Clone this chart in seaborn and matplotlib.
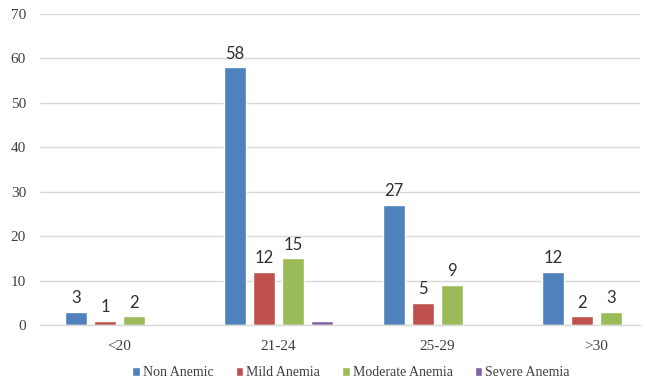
import matplotlib
matplotlib.use("Agg")
import matplotlib.pyplot as plt
import pandas as pd
import seaborn as sns

# Age groups and counts per anaemia status
age_groups = ["<20", "21-24", "25-29", ">30"]
non_anemic = [3, 58, 27, 12]
mild_anemia = [1, 12, 5, 2]
moderate_anemia = [2, 15, 9, 3]
severe_anemia = [0, 1, 0, 0]
series_names = ["Non Anemic", "Mild Anemia", "Moderate Anemia", "Severe Anemia"]
labelled_series = ["Non Anemic", "Mild Anemia", "Moderate Anemia"]
y_ticks = [0, 10, 20, 30, 40, 50, 60, 70]

palette = ["#4F81BD", "#C0504D", "#9BBB59", "#8064A2"]

rows = []
for name, vals in zip(series_names,
                      [non_anemic, mild_anemia, moderate_anemia, severe_anemia]):
    for grp, v in zip(age_groups, vals):
        rows.append({"Age": grp, "Status": name, "Count": v})
df = pd.DataFrame(rows)

sns.set_theme(style="white")
plt.rcParams["font.family"] = ["Liberation Serif", "DejaVu Serif"]

fig = plt.figure(figsize=(6.46, 3.81), dpi=100)
ax = fig.add_axes([40 / 646, 1 - 325 / 381, 600 / 646, (325 - 14) / 381])

sns.barplot(data=df, x="Age", y="Count", hue="Status", order=age_groups,
            hue_order=series_names, palette=palette, width=0.73, gap=0.24,
            saturation=1, ax=ax, legend=True, errorbar=None)

ax.set_ylim(0, 70)
ax.set_xlim(-0.5, 3.274)
ax.set_yticks(y_ticks)
ax.yaxis.grid(True, color="#D9D9D9", linewidth=1)
ax.set_axisbelow(True)
for s in ["top", "right", "left"]:
    ax.spines[s].set_visible(False)
ax.spines["bottom"].set_color("#D9D9D9")
ax.spines["bottom"].set_linewidth(1)
ax.tick_params(axis="both", length=0, labelsize=11, colors="#404040")
ax.tick_params(axis="x", pad=11)
ax.tick_params(axis="y", pad=10)
ax.set_xlabel("")
ax.set_ylabel("")

# Value labels above the first three series
for container, name in zip(ax.containers, series_names):
    if name in labelled_series:
        ax.bar_label(container, labels=[f"{int(v)}" for v in container.datavalues],
                     padding=4, fontsize=12, color="#303030",
                     family=["Lato", "DejaVu Sans"])

handles, labels = ax.get_legend_handles_labels()
ax.legend(handles, labels, loc="center", bbox_to_anchor=(351 / 646, 8 / 381),
          bbox_transform=fig.transFigure, ncol=4, frameon=False,
          fontsize=10, handlelength=0.55, handleheight=0.55,
          handletextpad=0.2, columnspacing=1.6, labelcolor="#404040")

fig.savefig("out.png", dpi=100)
